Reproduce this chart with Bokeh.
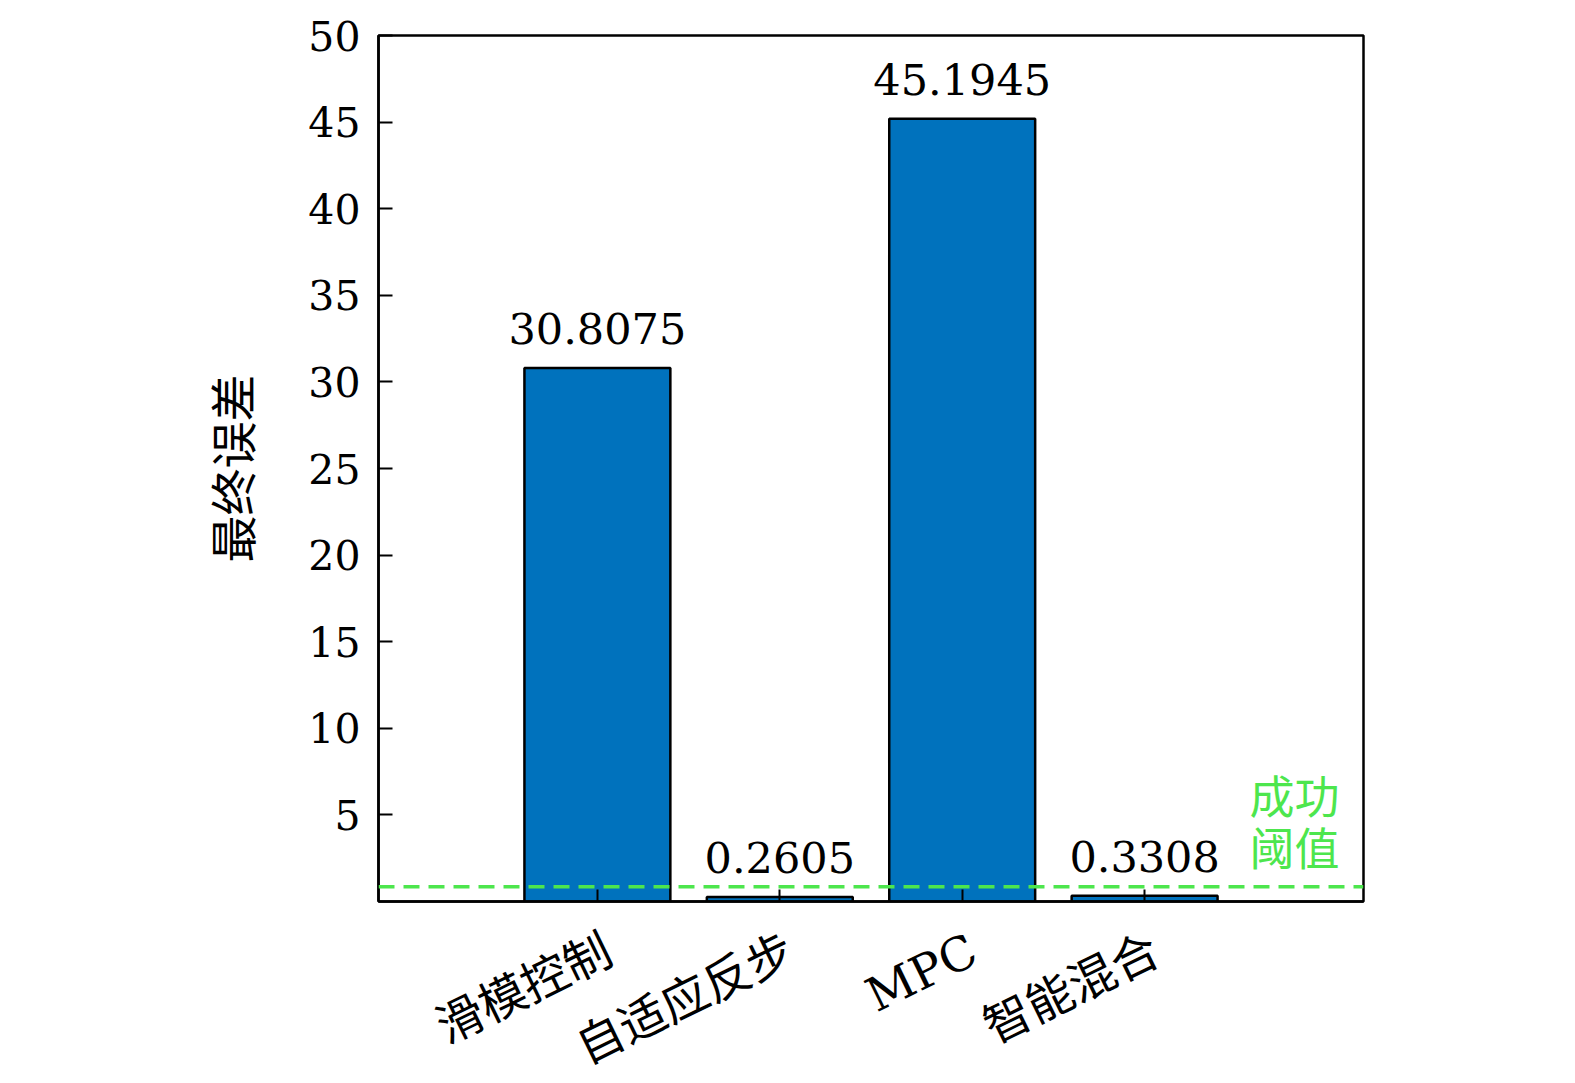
from bokeh.plotting import figure
from bokeh.models import ColumnDataSource, FixedTicker, Span, Range1d
from bokeh.core.properties import value
from bokeh.embed import file_html
from bokeh.resources import INLINE
import math

categories = ["滑模控制", "自适应反步", "MPC", "智能混合"]
errors = [30.8075, 0.2605, 45.1945, 0.3308]
value_labels = ["30.8075", "0.2605", "45.1945", "0.3308"]
threshold = 0.85
threshold_label = "成功\n阈值"
y_ticks = [5, 10, 15, 20, 25, 30, 35, 40, 45, 50]

xs = list(range(1, len(categories) + 1))
FONT = "'DejaVu Serif', 'Noto Sans CJK SC'"
CJK = "'Noto Sans CJK SC'"
GREEN = "#4de64d"

src = ColumnDataSource(dict(x=xs, top=errors, lab=value_labels,
                            base=[0] * len(xs), cat=categories))

p = figure(width=1559, height=1080, output_backend="svg", toolbar_location=None,
           x_range=Range1d(-0.2, 5.2), y_range=Range1d(0, 50),
           min_border_left=378, min_border_right=196, min_border_top=35,
           min_border_bottom=179)
p.grid.visible = False
p.outline_line_color = "black"
p.outline_line_width = 2.5
p.outline_line_alpha = 1

p.vbar(x="x", top="top", width=0.8, bottom=0, source=src,
       fill_color="#0072BD", line_color="black", line_width=2.5)

p.text(x="x", y="top", text="lab", source=src, text_align="center",
       text_baseline="bottom", y_offset=-24, text_font=value(FONT),
       text_font_size="43px", text_color="black")

p.add_layout(Span(location=threshold, dimension="width", line_color=GREEN,
                  line_width=3.5, line_dash="16 9"))

p.text(x=[5.2], y=[threshold], text=[threshold_label], text_align="right",
       text_baseline="bottom", x_offset=-24, y_offset=-8,
       text_font=value(CJK), text_font_size="45px", text_color=GREEN,
       text_line_height=0.8)

ya = p.yaxis[0]
ya.ticker = FixedTicker(ticks=y_ticks)
ya.minor_tick_line_color = None
ya.major_tick_in = 14
ya.major_tick_out = 0
ya.major_tick_line_width = 2
ya.axis_line_width = 2.5
ya.major_label_standoff = 18
ya.major_label_text_font = FONT
ya.major_label_text_font_size = "41px"
ya.major_label_text_color = "black"
ya.axis_label = "最终误差"
ya.axis_label_text_font = CJK
ya.axis_label_text_font_style = "normal"
ya.axis_label_text_font_size = "47px"
ya.axis_label_text_color = "black"
ya.axis_label_standoff = 40

xa = p.xaxis[0]
xa.ticker = FixedTicker(ticks=xs)
xa.major_label_overrides = {x: "" for x in xs}
xa.minor_tick_line_color = None
xa.major_tick_in = 12
xa.major_tick_out = 0
xa.major_tick_line_width = 2
xa.axis_line_width = 2.5
xa.major_label_text_font_size = "0px"

# category labels, rotated about their top-right corner (below the axis)
p.text(x="x", y="base", text="cat", source=src, level="annotation",
       angle=math.radians(26), text_align="right", text_baseline="top",
       x_offset=-1, y_offset=21, text_font=value(FONT),
       text_font_size="47px", text_color="black")

open("out.html", "w").write(file_html(p, INLINE))
